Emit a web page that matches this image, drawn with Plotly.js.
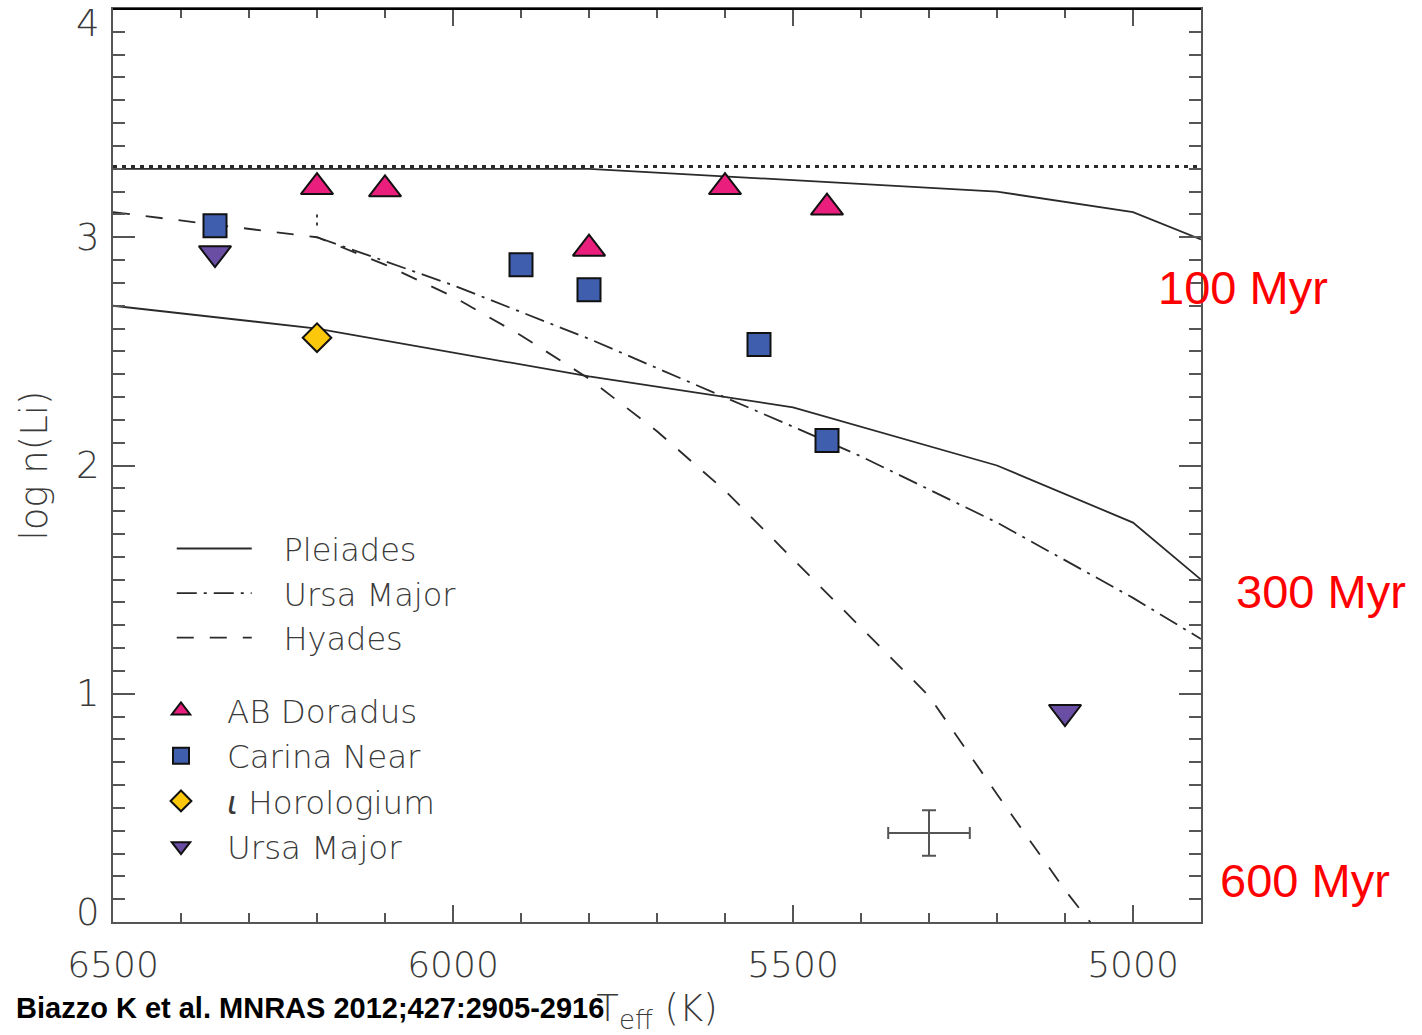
<!DOCTYPE html>
<html>
<head>
<meta charset="utf-8">
<script src="https://cdn.plot.ly/plotly-3.0.1.min.js"></script>
<style>
  html, body { margin: 0; padding: 0; background: #fff; }
  #chart { width: 1422px; height: 1035px; }
</style>
</head>
<body>
<div id="chart"></div>
<script>
// Effective temperature (K) and lithium abundance log n(Li)

// Meteoritic lithium level
const meteoriticTeff = [6500, 4900];
const meteoriticLi = [3.31, 3.31];

// Upper solid envelope (100 Myr)
const upperTeff = [6500, 5800, 5200, 5000, 4900];
const upperLi = [3.30, 3.30, 3.20, 3.11, 2.99];

// Pleiades (solid)
const pleiadesTeff = [6500, 6200, 5800, 5500, 5200, 5000, 4900];
const pleiadesLi = [2.70, 2.60, 2.39, 2.255, 2.00, 1.75, 1.50];

// Ursa Major cluster (dash-dot)
const umaTeff = [6200, 6000, 5800, 5600, 5500, 5400, 5200, 5000, 4900];
const umaLi = [3.00, 2.79, 2.555, 2.30, 2.17, 2.04, 1.75, 1.42, 1.24];

// short dotted connector at 6200 K
const connectorTeff = [6200, 6200];
const connectorLi = [3.10, 3.03];

// Hyades (dashed)
const hyadesTeff = [6500, 6200, 6100, 6000, 5900, 5800, 5700, 5600, 5500, 5400, 5300, 5200, 5100, 5000];
const hyadesLi = [3.11, 3.00, 2.88, 2.74, 2.57, 2.38, 2.15, 1.89, 1.59, 1.29, 0.99, 0.56, 0.14, -0.24];

// Stars by association
const abDorTeff = [6200, 6100, 5800, 5600, 5450];
const abDorLi = [3.22, 3.21, 2.95, 3.22, 3.13];

const carinaTeff = [6350, 5900, 5800, 5550, 5450];
const carinaLi = [3.05, 2.88, 2.77, 2.53, 2.11];

const horTeff = [6200];
const horLi = [2.56];

const umaStarTeff = [6350, 5100];
const umaStarLi = [2.93, 0.92];

// Typical uncertainty
const errTeff = [5300];
const errLi = [0.39];
const errTeffSize = 60;
const errLiSize = 0.1;

// Axis labels
const xTickVals = [6500, 6000, 5500, 5000];
const yTickVals = [0, 1, 2, 3, 4];
const yTickText = ['0', '1', '2', '3', '4'];

// Age labels
const ageLabels = ['100 Myr', '300 Myr', '600 Myr'];
const ageLabelLi = [2.78, 1.446, 0.183];
const ageLabelX = [0.9586, 1.0304, 1.0156];

const FONT = 'Liberation Sans, Arial, sans-serif';
const THIN = 'DejaVu Sans, Liberation Sans, sans-serif';
const LINE = '#2a2a2a';
const AXIS = '#555';
const TEXT = '#3a3a3a';
const GAP = '\u00a0\u00a0\u2009';

const traces = [
  {x: meteoriticTeff, y: meteoriticLi, mode: 'lines', showlegend: false,
   line: {color: LINE, width: 3, dash: '4px,5px'}},
  {x: upperTeff, y: upperLi, mode: 'lines', showlegend: false,
   line: {color: LINE, width: 1.8}},
  {x: pleiadesTeff, y: pleiadesLi, mode: 'lines', name: GAP + 'Pleiades', legend: 'legend',
   line: {color: LINE, width: 1.8}},
  {x: umaTeff, y: umaLi, mode: 'lines', name: GAP + 'Ursa Major', legend: 'legend',
   line: {color: LINE, width: 1.8, dash: '20px,7px,3px,7px'}},
  {x: hyadesTeff, y: hyadesLi, mode: 'lines', name: GAP + 'Hyades', legend: 'legend',
   line: {color: LINE, width: 1.8, dash: '17px,16px'}},
  {x: connectorTeff, y: connectorLi, mode: 'lines', showlegend: false,
   line: {color: LINE, width: 1.8, dash: '3px,5px'}},
  {x: errTeff, y: errLi, mode: 'markers', showlegend: false,
   marker: {size: 1, color: 'rgba(0,0,0,0)'},
   error_x: {type: 'constant', value: errTeffSize, color: '#555', thickness: 2, width: 6},
   error_y: {type: 'constant', value: errLiSize, color: '#555', thickness: 2, width: 7}},
  {x: abDorTeff, y: abDorLi, mode: 'markers', name: 'AB Doradus', legend: 'legend2',
   marker: {symbol: 'triangle-up', size: 28, color: '#ea1f7d', line: {color: '#111', width: 2}}},
  {x: carinaTeff, y: carinaLi, mode: 'markers', name: 'Carina Near', legend: 'legend2',
   marker: {symbol: 'square', size: 23, color: '#3f5fae', line: {color: '#111', width: 2}}},
  {x: horTeff, y: horLi, mode: 'markers', name: '<i>ι</i> Horologium', legend: 'legend2',
   marker: {symbol: 'diamond', size: 22, color: '#fcc80c', line: {color: '#111', width: 2}}},
  {x: umaStarTeff, y: umaStarLi, mode: 'markers', name: 'Ursa Major', legend: 'legend2',
   marker: {symbol: 'triangle-down', size: 28, color: '#6a4ea4', line: {color: '#111', width: 2}}}
];

const annotations = [];
yTickVals.forEach((v, i) => {
  let shift = 0;
  if (i === 0) shift = 10;
  if (i === yTickVals.length - 1) shift = -14;
  annotations.push({
    xref: 'paper', yref: 'y', x: 0, y: v, xanchor: 'right', yanchor: 'middle',
    xshift: -11, yshift: shift, showarrow: false, text: yTickText[i],
    font: {family: THIN, size: 37, color: TEXT, weight: 200}
  });
});
ageLabels.forEach((t, i) => {
  annotations.push({
    xref: 'paper', yref: 'y', x: ageLabelX[i], y: ageLabelLi[i], xanchor: 'left', yanchor: 'middle',
    showarrow: false, text: t, font: {family: FONT, size: 47, color: '#ff0000'}
  });
});
annotations.push({
  xref: 'paper', yref: 'paper', x: -0.0911, y: -0.0942, xanchor: 'left', yanchor: 'middle',
  showarrow: false, text: '<b>Biazzo K et al. MNRAS 2012;427:2905-2916</b>',
  font: {family: FONT, size: 29, color: '#000'}
});

const layout = {
  width: 1422, height: 1035,
  margin: {l: 113, r: 221, t: 9, b: 113},
  paper_bgcolor: '#fff', plot_bgcolor: '#fff',
  xaxis: {
    range: [6500, 4900], tickmode: 'array', tickvals: xTickVals,
    ticks: 'inside', ticklen: 17, tickwidth: 2, tickcolor: AXIS,
    showline: true, linecolor: AXIS, linewidth: 2, mirror: 'ticks',
    showgrid: false, zeroline: false,
    minor: {dtick: 100, tick0: 6500, ticks: 'inside', ticklen: 9, tickwidth: 2, tickcolor: AXIS, showgrid: false},
    tickfont: {family: THIN, size: 36, color: TEXT, weight: 200},
    ticklabelstandoff: 10,
    title: {text: 'T<sub>eff</sub> (K)', font: {family: THIN, size: 37, color: TEXT, weight: 200}, standoff: 30}
  },
  yaxis: {
    range: [0, 4], dtick: 1, tick0: 0,
    ticks: 'inside', ticklen: 22, tickwidth: 2, tickcolor: AXIS,
    showline: true, linecolor: AXIS, linewidth: 2, mirror: 'ticks',
    showgrid: false, zeroline: false, showticklabels: false,
    minor: {dtick: 0.1, ticks: 'inside', ticklen: 12, tickwidth: 2, tickcolor: AXIS, showgrid: false},
    title: {text: 'log n(Li)', font: {family: THIN, size: 37, color: TEXT, weight: 200}, standoff: 52}
  },
  legend: {
    x: 0.054, y: 0.439, xanchor: 'left', yanchor: 'top', itemwidth: 75,
    bgcolor: 'rgba(0,0,0,0)', font: {family: THIN, size: 32, color: TEXT, weight: 200}, traceorder: 'normal'
  },
  legend2: {
    x: 0.0202, y: 0.262, xanchor: 'left', yanchor: 'top', itemwidth: 82,
    bgcolor: 'rgba(0,0,0,0)', font: {family: THIN, size: 32.5, color: TEXT, weight: 200}, traceorder: 'normal'
  },
  shapes: [
    {type: 'line', xref: 'paper', yref: 'paper', x0: 0, x1: 1, y0: 1, y1: 1, line: {color: '#000', width: 2}}
  ],
  annotations: annotations
};

Plotly.newPlot('chart', traces, layout, {displayModeBar: false, staticPlot: true});
</script>
</body>
</html>
